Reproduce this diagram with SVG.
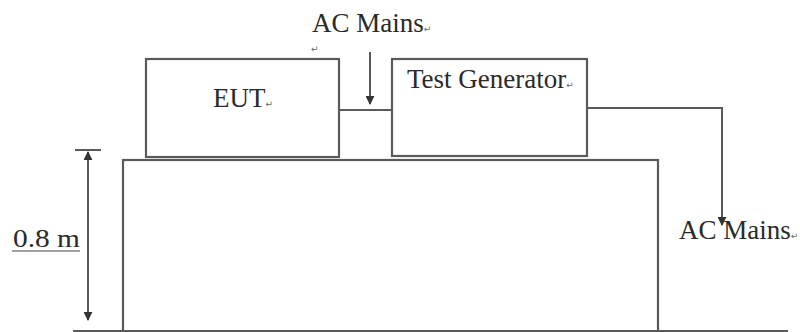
<svg xmlns="http://www.w3.org/2000/svg" width="800" height="332" viewBox="0 0 800 332">
<defs>
<style>
.box{fill:#fff;stroke:#5a5a5a;stroke-width:2.2}
.ln{fill:none;stroke:#5a5a5a;stroke-width:2}
.t{font-family:"Liberation Serif","Times New Roman",serif;font-size:27px;fill:#2a2a2a}
.pm{font-family:"DejaVu Sans",sans-serif;font-size:9px;fill:#666}
</style>
<marker id="ah" viewBox="0 0 10 10" refX="9" refY="5" markerWidth="4.5" markerHeight="4.5" orient="auto-start-reverse" markerUnits="strokeWidth">
<path d="M0,0 L10,5 L0,10 z" fill="#333"/>
</marker>
</defs>
<rect width="800" height="332" fill="#fff"/>
<g id="table"><rect class="box" x="123" y="160" width="535" height="175"/></g>
<g id="ground"><line class="ln" x1="73" y1="331" x2="788" y2="331"/></g>
<g id="eut"><rect class="box" x="146" y="59" width="193" height="98"/><text class="t" x="213" y="107">EUT<tspan class="pm">↵</tspan></text></g>
<g id="testgen"><rect class="box" x="392" y="59" width="195" height="97"/><text class="t" x="407" y="88">Test Generator<tspan class="pm">↵</tspan></text></g>
<g id="connectors">
<line class="ln" x1="339" y1="110" x2="392" y2="110"/>
<line class="ln" x1="370" y1="52" x2="370" y2="104" marker-end="url(#ah)"/>
<polyline class="ln" points="587,108 722,108 722,225" marker-end="url(#ah)"/>
<line class="ln" x1="75" y1="150" x2="101" y2="150"/>
<line class="ln" x1="88" y1="152" x2="88" y2="320" marker-start="url(#ah)" marker-end="url(#ah)"/>
</g>
<g id="labels">
<text class="t" x="312" y="32">AC Mains<tspan class="pm">↵</tspan></text>
<text class="pm" x="311" y="52">↵</text>
<text class="t" x="679" y="239">AC Mains<tspan class="pm">↵</tspan></text>
<text class="t" x="13" y="247" style="font-size:25px" textLength="67" lengthAdjust="spacingAndGlyphs">0.8 m</text>
<line x1="12" y1="251" x2="80" y2="251" stroke="#444" stroke-width="1"/>
</g>
</svg>
